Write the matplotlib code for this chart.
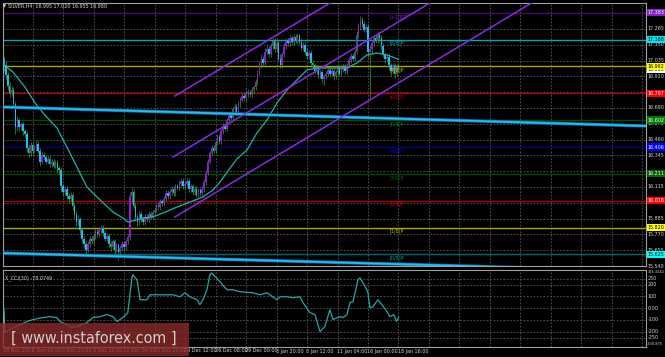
import os
import matplotlib
matplotlib.use('Agg')
import matplotlib.pyplot as plt
from matplotlib import font_manager
from matplotlib.font_manager import FontProperties
from matplotlib.transforms import blended_transform_factory
from matplotlib.patches import Rectangle

# ---------------- data ----------------
opens = [17.04, 17.00, 16.93, 16.85, 16.80, 16.82, 16.72, 16.55,
         16.60, 16.55, 16.57, 16.52, 16.50, 16.40, 16.36, 16.42,
         16.38, 16.40, 16.43, 16.38, 16.30, 16.35, 16.33, 16.30,
         16.32, 16.28, 16.30, 16.27, 16.29, 16.25, 16.24, 16.12,
         16.08, 16.10, 16.05, 16.03, 16.06, 15.98, 15.92, 15.86,
         15.88, 15.80, 15.74, 15.70, 15.66, 15.70, 15.74, 15.72,
         15.76, 15.79, 15.77, 15.80, 15.82, 15.78, 15.74, 15.76,
         15.70, 15.68, 15.72, 15.66, 15.69, 15.64, 15.67, 15.70,
         15.68, 15.72, 15.75, 16.05, 16.08, 15.98, 15.90, 15.86,
         15.92, 15.88, 15.86, 15.90, 15.88, 15.92, 15.90, 15.93,
         15.95, 15.98, 15.97, 16.01, 16.00, 16.03, 16.07, 16.05,
         16.08, 16.10, 16.07, 16.12, 16.11, 16.14, 16.16, 16.12,
         16.14, 16.16, 16.10, 16.12, 16.08, 16.10, 16.06, 16.09,
         16.07, 16.10, 16.15, 16.22, 16.30, 16.36, 16.40, 16.38,
         16.44, 16.48, 16.45, 16.52, 16.56, 16.54, 16.60, 16.64,
         16.62, 16.68, 16.70, 16.66, 16.72, 16.75, 16.78, 16.76,
         16.80, 16.80, 16.79, 16.82, 16.84, 16.88, 16.95, 17.00,
         17.05, 17.02, 17.10, 17.12, 17.08, 17.14, 17.18, 17.12,
         17.16, 17.05, 17.00, 17.08, 17.14, 17.18, 17.16, 17.20,
         17.17, 17.21, 17.18, 17.22, 17.17, 17.13, 17.15, 17.10,
         17.07, 17.09, 17.02, 17.00, 16.96, 16.98, 16.93, 16.95,
         16.90, 16.92, 16.94, 16.97, 16.94, 16.96, 16.92, 16.95,
         16.98, 16.94, 16.97, 16.99, 16.96, 17.00, 17.04, 17.07,
         17.05, 17.10, 17.22, 17.28, 17.33, 17.30, 17.26, 17.28,
         17.10, 17.12, 17.16, 17.20, 17.18, 17.22, 17.20, 17.14,
         17.08, 17.05, 17.06, 17.00, 16.96, 17.00, 16.94, 16.995]
highs = [17.07, 17.03, 16.95, 16.88, 16.85, 16.84, 16.74, 16.63,
         16.62, 16.59, 16.59, 16.54, 16.52, 16.42, 16.44, 16.44,
         16.42, 16.46, 16.45, 16.40, 16.37, 16.37, 16.35, 16.34,
         16.34, 16.32, 16.32, 16.31, 16.31, 16.27, 16.26, 16.14,
         16.12, 16.12, 16.07, 16.08, 16.08, 16.00, 15.94, 15.91,
         15.90, 15.82, 15.76, 15.72, 15.72, 15.76, 15.76, 15.78,
         15.81, 15.81, 15.82, 15.84, 15.84, 15.80, 15.78, 15.78,
         15.72, 15.74, 15.74, 15.71, 15.71, 15.69, 15.72, 15.72,
         15.74, 15.77, 16.08, 16.115, 16.10, 16.00, 15.92, 15.94,
         15.94, 15.90, 15.92, 15.92, 15.94, 15.94, 15.95, 15.97,
         16.00, 16.00, 16.03, 16.03, 16.05, 16.09, 16.09, 16.10,
         16.12, 16.12, 16.14, 16.14, 16.16, 16.18, 16.18, 16.16,
         16.18, 16.18, 16.14, 16.14, 16.12, 16.12, 16.11, 16.11,
         16.12, 16.17, 16.24, 16.32, 16.38, 16.42, 16.42, 16.46,
         16.50, 16.50, 16.54, 16.58, 16.58, 16.62, 16.66, 16.66,
         16.70, 16.72, 16.72, 16.74, 16.77, 16.80, 16.80, 16.82,
         16.83, 16.82, 16.84, 16.86, 16.90, 16.97, 17.03, 17.08,
         17.07, 17.13, 17.15, 17.14, 17.16, 17.20, 17.20, 17.18,
         17.18, 17.08, 17.10, 17.16, 17.20, 17.20, 17.22, 17.22,
         17.23, 17.23, 17.235, 17.23, 17.19, 17.17, 17.17, 17.12,
         17.11, 17.11, 17.04, 17.02, 17.00, 17.00, 16.97, 16.97,
         16.94, 16.96, 16.99, 16.99, 16.98, 16.98, 16.97, 17.00,
         17.00, 16.99, 17.01, 17.01, 17.02, 17.06, 17.09, 17.09,
         17.12, 17.25, 17.31, 17.36, 17.35, 17.32, 17.30, 17.30,
         17.14, 17.18, 17.22, 17.22, 17.24, 17.24, 17.22, 17.16,
         17.10, 17.08, 17.08, 17.02, 17.02, 17.02, 17.01, 17.02]
lows = [16.96, 16.90, 16.82, 16.77, 16.78, 16.70, 16.50, 16.52,
        16.52, 16.53, 16.49, 16.47, 16.37, 16.33, 16.34, 16.35,
        16.36, 16.38, 16.36, 16.27, 16.28, 16.31, 16.28, 16.28,
        16.26, 16.26, 16.25, 16.25, 16.22, 16.21, 16.08, 16.05,
        16.06, 16.03, 16.00, 16.01, 15.95, 15.89, 15.83, 15.84,
        15.77, 15.71, 15.67, 15.62, 15.64, 15.68, 15.70, 15.70,
        15.74, 15.75, 15.75, 15.78, 15.76, 15.72, 15.72, 15.68,
        15.65, 15.66, 15.63, 15.64, 15.584, 15.62, 15.65, 15.66,
        15.66, 15.70, 15.73, 16.00, 15.96, 15.87, 15.83, 15.84,
        15.86, 15.84, 15.84, 15.86, 15.86, 15.88, 15.88, 15.91,
        15.93, 15.95, 15.95, 15.98, 15.98, 16.01, 16.03, 16.03,
        16.06, 16.05, 16.05, 16.09, 16.09, 16.12, 16.10, 16.10,
        16.12, 16.08, 16.08, 16.06, 16.06, 16.04, 16.04, 16.05,
        16.05, 16.08, 16.13, 16.20, 16.28, 16.34, 16.36, 16.36,
        16.42, 16.43, 16.43, 16.50, 16.52, 16.52, 16.58, 16.60,
        16.60, 16.66, 16.64, 16.64, 16.70, 16.73, 16.74, 16.74,
        16.77, 16.77, 16.77, 16.80, 16.82, 16.86, 16.93, 16.98,
        17.00, 17.00, 17.08, 17.06, 17.06, 17.12, 17.10, 17.10,
        17.03, 16.98, 16.98, 17.06, 17.12, 17.14, 17.14, 17.15,
        17.15, 17.16, 17.16, 17.15, 17.11, 17.11, 17.08, 17.05,
        17.05, 17.00, 16.98, 16.94, 16.94, 16.91, 16.91, 16.87,
        16.86, 16.90, 16.92, 16.92, 16.92, 16.89, 16.90, 16.93,
        16.92, 16.92, 16.95, 16.94, 16.94, 16.98, 17.02, 17.03,
        17.03, 17.08, 17.20, 17.26, 17.28, 17.24, 17.24, 17.06,
        16.76, 17.08, 17.14, 17.16, 17.16, 17.18, 17.12, 17.06,
        17.02, 17.03, 16.97, 16.92, 16.94, 16.91, 16.92, 16.955]
closes = [17.00, 16.93, 16.85, 16.80, 16.82, 16.72, 16.55, 16.60,
          16.55, 16.57, 16.52, 16.50, 16.40, 16.36, 16.42, 16.38,
          16.40, 16.43, 16.38, 16.30, 16.35, 16.33, 16.30, 16.32,
          16.28, 16.30, 16.27, 16.29, 16.25, 16.24, 16.12, 16.08,
          16.10, 16.05, 16.03, 16.06, 15.98, 15.92, 15.86, 15.88,
          15.80, 15.74, 15.70, 15.66, 15.70, 15.74, 15.72, 15.76,
          15.79, 15.77, 15.80, 15.82, 15.78, 15.74, 15.76, 15.70,
          15.68, 15.72, 15.66, 15.69, 15.64, 15.67, 15.70, 15.68,
          15.72, 15.75, 16.05, 16.08, 15.98, 15.90, 15.86, 15.92,
          15.88, 15.86, 15.90, 15.88, 15.92, 15.90, 15.93, 15.95,
          15.98, 15.97, 16.01, 16.00, 16.03, 16.07, 16.05, 16.08,
          16.10, 16.07, 16.12, 16.11, 16.14, 16.16, 16.12, 16.14,
          16.16, 16.10, 16.12, 16.08, 16.10, 16.06, 16.09, 16.07,
          16.10, 16.15, 16.22, 16.30, 16.36, 16.40, 16.38, 16.44,
          16.48, 16.45, 16.52, 16.56, 16.54, 16.60, 16.64, 16.62,
          16.68, 16.70, 16.66, 16.72, 16.75, 16.78, 16.76, 16.80,
          16.80, 16.79, 16.82, 16.84, 16.88, 16.95, 17.00, 17.05,
          17.02, 17.10, 17.12, 17.08, 17.14, 17.18, 17.12, 17.16,
          17.05, 17.00, 17.08, 17.14, 17.18, 17.16, 17.20, 17.17,
          17.21, 17.18, 17.22, 17.17, 17.13, 17.15, 17.10, 17.07,
          17.09, 17.02, 17.00, 16.96, 16.98, 16.93, 16.95, 16.90,
          16.92, 16.94, 16.97, 16.94, 16.96, 16.92, 16.95, 16.98,
          16.94, 16.97, 16.99, 16.96, 17.00, 17.04, 17.07, 17.05,
          17.10, 17.22, 17.28, 17.33, 17.30, 17.26, 17.28, 17.10,
          17.12, 17.16, 17.20, 17.18, 17.22, 17.20, 17.14, 17.08,
          17.05, 17.06, 17.00, 16.96, 17.00, 16.94, 16.99, 16.98]

# moving average (bar index, price)
ma_x = [0, 4.7, 11, 16.3, 20.5, 27.8, 33, 38.3, 43.5, 50.4, 57.2, 62.4, 65,
        67.7, 72.9, 78.2, 83.4, 90.8, 97.6, 104.4, 109.7, 113.3, 122.2, 127.5,
        132.7, 138, 143.2, 148.5, 153.7, 159, 164.2, 172.6, 180, 185.2, 190.4,
        195.7, 201, 207]
ma_v = [17.003, 16.952, 16.843, 16.726, 16.654, 16.544, 16.406, 16.261, 16.115,
        16.021, 15.933, 15.889, 15.860, 15.868, 15.889, 15.897, 15.926, 15.969,
        16.006, 16.042, 16.093, 16.151, 16.319, 16.384, 16.508, 16.603, 16.726,
        16.821, 16.894, 16.967, 16.981, 16.981, 16.981, 17.018, 17.076, 17.090,
        17.076, 17.045]

# CCI(30)
cci_x = [0, 0.5, 3, 8.4, 12, 15.2, 20.5, 24, 27.8, 29.4, 33, 35.7, 38.3, 43.5,
         46.7, 50.4, 54, 57.2, 59.3, 62.4, 65, 67.2, 67.7, 69.8, 71.4, 75, 76.6,
         81.8, 88.7, 92.3, 95, 97.6, 101.3, 102.8, 104.4, 106.5, 108, 109, 113.3,
         117, 120, 123.8, 130.6, 134.3, 138, 143.2, 144.8, 148.5, 151.6, 155.3,
         156.9, 160.5, 163.2, 165.8, 168.4, 171, 172.6, 176.3, 177.9, 180, 181.5,
         183.1, 184.2, 185.7, 186.8, 188.4, 190.4, 191, 192, 193.6, 196.2, 198.3,
         201, 202.5, 204.5, 206, 207]
cci_v = [0, -208, -182, -140, -114, -97, -80, -72, -80, -114, -140, -165, -157,
         -123, -80, -72, -55, -72, -114, -80, -38, 267, 284, 242, 72, 72, 114,
         114, 114, 97, 131, 97, 72, 30, 72, 157, 284, 300, 225, 157, 157, 140,
         131, 114, 131, 72, 97, 97, 89, 97, 47, -38, -55, -199, -157, -13, -97,
         -72, -80, -55, 47, 55, 131, 242, 258, 216, 157, 131, 4, 13, 72, 30, -30,
         -72, -55, -114, -78]

# Murrey math levels
murray_levels = [17.383, 17.188, 16.992, 16.797, 16.602, 16.406, 16.211, 16.016, 15.820, 15.625]
murray_names = ['[+1/8]P', '[8/8]P', '[7/8]P', '[6/8]P', '[5/8]P', '[4/8]P',
                '[3/8]P', '[2/8]P', '[1/8]P', '[0/8]P']
murray_box_labels = ['17.383', '17.188', '16.992', '16.797', '16.602', '16.406',
                     '16.211', '16.016', '15.820', '15.625']

# trend lines (bar index, price)
blue_line1 = [(-0.5, 16.697), (336.9, 16.559)]
blue_line2 = [(-0.5, 15.634), (336.9, 15.503)]
channel_upper = [(89.7, 16.777), (336.9, 18.834)]
channel_mid = [(88.7, 16.333), (336.9, 18.398)]
channel_low = [(89.7, 15.897), (336.9, 17.954)]

# price grid (all levels) and the tick labels that stay visible beside the boxes
price_grid = [17.380, 17.265, 17.150, 17.035, 16.920, 16.805, 16.690, 16.575, 16.460,
              16.345, 16.230, 16.115, 16.000, 15.885, 15.770, 15.655, 15.540]
price_ticks = [17.265, 17.150, 17.035, 16.920, 16.690, 16.575, 16.460,
               16.345, 16.115, 15.885, 15.770, 15.655, 15.540]
price_tick_labels = ['17.265', '17.150', '17.035', '16.920', '16.690', '16.575', '16.460',
                     '16.345', '16.115', '15.885', '15.770', '15.655', '15.540']
cci_ticks = [250, 200, 100, 0, -100, -200, -250]
cci_tick_labels = ['250', '200', '100', '0.00', '-100', '-200', '-250']
cci_max, cci_min = 325.3242, -330.875

date_idx = [0, 15, 31, 47, 63, 79, 95, 111, 127, 143, 159, 175, 191, 207]
date_labels = ['28 Nov 2017', '1 Dec 04:00', '5 Dec 20:00', '8 Dec 12:00', '13 Dec 04:00',
               '15 Dec 20:00', '20 Dec 12:00', '26 Dec 08:00', '29 Dec 00:00',
               '3 Jan 20:00', '8 Jan 12:00', '11 Jan 04:00', '16 Jan 00:00', '18 Jan 16:00']

title_text = 'SILVER,H4  16.995 17.020 16.955 16.980'
cci_title = 'X_CCI(30) -78.0749'
last_price = 16.980

# ---------------- fonts ----------------
files = {os.path.basename(f.fname): f.fname for f in font_manager.fontManager.ttflist}
FS, WFS, FPATH = 3.8, 12.0, None
for fn, fs, wfs in [('LiberationSansNarrow-Regular.ttf', 4.3, 14.5),
                    ('DejaVuSansCondensed.ttf', 3.9, 11.5),
                    ('LiberationSans-Regular.ttf', 3.8, 12.0)]:
    if fn in files:
        FS, WFS, FPATH = fs, wfs, files[fn]
        break


def fp(size):
    if FPATH:
        return FontProperties(fname=FPATH, size=size)
    return FontProperties(family='DejaVu Sans', size=size * 0.85)


SMALL = fp(FS)
TINY = fp(FS * 0.74)
TXT = '#d8d8d8'
GRID = '#5c5c5c'
BULL = '#9418d0'
BEAR = '#1ebcee'
WICK = '#2cb82c'
line_cols = ['#4a0a6e', '#00a6b6', '#a8a800', '#b00000', '#004c00', '#00008c',
             '#004c00', '#b00000', '#a8a800', '#006a6a']
box_cols = ['#8a1ec8', '#00e6f0', '#ffff00', '#ff0000', '#007a00', '#0000ff',
            '#006400', '#ff0000', '#ffff00', '#00ffff']
box_txt = ['white', 'black', 'black', 'white', 'white', 'white', 'white', 'white',
           'black', 'black']
lab_cols = ['#8a1ec8', '#00b0c0', '#c8c800', '#c00000', '#008000', '#0000e0',
            '#006000', '#c00000', '#b4b400', '#00a0a0']

W, H = 665, 357
fig = plt.figure(figsize=(W / 100, H / 100), dpi=100, facecolor='black')


def fr(x0, y0, x1, y1):
    return [x0 / W, 1 - y1 / H, (x1 - x0) / W, (y1 - y0) / H]


XL = (-0.5, -0.5 + 643 / 1.906)
ax = fig.add_axes(fr(3, 3, 646, 266))
cax = fig.add_axes(fr(3, 270, 646, 347))
for a in (ax, cax):
    a.set_facecolor('black')
    a.set_xlim(*XL)
    a.set_xticks([])
    a.set_yticks([])
    for s in a.spines.values():
        s.set_color('#a0a0a0')
        s.set_linewidth(0.8)
ax.set_ylim(15.540, 17.454)
cax.set_ylim(cci_min, cci_max)

# grid
vgrid = list(range(15, 337, 16))
for a in (ax, cax):
    for g in vgrid:
        a.axvline(g, color=GRID, lw=0.6, ls=(0, (2, 2)), zorder=0)
for p in price_grid:
    ax.axhline(p, color=GRID, lw=0.6, ls=(0, (2, 2)), zorder=0)
for c in cci_ticks:
    cax.axhline(c, color=GRID, lw=0.6, ls=(0, (2, 2)), zorder=0)

# murray lines
for lv, lc in zip(murray_levels, line_cols):
    ax.axhline(lv, color=lc, lw=1.0, zorder=1)

# candles
idx = list(range(len(closes)))
ax.vlines(idx, lows, highs, color=WICK, lw=0.45, zorder=2)
bodies_b = [max(abs(c - o), 0.004) for o, c in zip(opens, closes)]
bottoms = [min(o, c) for o, c in zip(opens, closes)]
cols = [BULL if c >= o else BEAR for o, c in zip(opens, closes)]
ax.bar(idx, bodies_b, bottom=bottoms, width=0.8, color=cols, lw=0, zorder=3)

# moving average
ax.plot(ma_x, ma_v, color='#20b2aa', lw=0.9, zorder=4)

# trend lines
for ln in (blue_line1, blue_line2):
    ax.plot([ln[0][0], ln[1][0]], [ln[0][1], ln[1][1]], color='#0d6fae', lw=2.4, zorder=4)
    ax.plot([ln[0][0], ln[1][0]], [ln[0][1], ln[1][1]], color='#1ec0f2', lw=1.3, zorder=5)
for ln in (channel_upper, channel_mid, channel_low):
    ax.plot([ln[0][0], ln[1][0]], [ln[0][1], ln[1][1]], color='#8a2be2', lw=1.1, zorder=5)

# murray labels inside chart
for lv, nm, lc in zip(murray_levels, murray_names, lab_cols):
    ax.text(202.3, lv - 0.008, nm, color=lc, fontproperties=SMALL, va='top', ha='left', zorder=6)

# right axis labels
tr = blended_transform_factory(ax.transAxes, ax.transData)
for p, lbl in zip(price_ticks, price_tick_labels):
    ax.text(1.003, p, lbl, transform=tr, color=TXT, fontproperties=SMALL,
            va='center', ha='left', clip_on=False)
ax.text(1.003, last_price - 0.012, f'{last_price:.3f}', transform=tr, color='black',
        fontproperties=SMALL, va='center', ha='left', clip_on=False,
        bbox=dict(boxstyle='square,pad=0.2', fc='white', ec='none'))
for lv, bl, bc, bt in zip(murray_levels, murray_box_labels, box_cols, box_txt):
    ax.text(1.003, lv, bl, transform=tr, color=bt, fontproperties=SMALL,
            va='center', ha='left', clip_on=False,
            bbox=dict(boxstyle='square,pad=0.2', fc=bc, ec='none'))

trc = blended_transform_factory(cax.transAxes, cax.transData)
for c, lbl in zip(cci_ticks, cci_tick_labels):
    cax.text(1.003, c, lbl, transform=trc, color=TXT, fontproperties=SMALL,
             va='center', ha='left', clip_on=False)
cax.text(1.002, cci_max - 18, '325.3242', transform=trc, color=TXT, fontproperties=TINY,
         va='center', ha='left', clip_on=False)
cax.text(1.002, cci_min + 25, '-330.875', transform=trc, color=TXT, fontproperties=TINY,
         va='center', ha='left', clip_on=False)

# CCI
cax.plot(cci_x, cci_v, color='#25a8a2', lw=0.9, zorder=3)
cax.text(0.003, 0.93, cci_title, transform=cax.transAxes, color=TXT, fontproperties=SMALL,
         va='top', ha='left')

# titles
fig.text(3 / W, 1 - 6 / H, '\u25BC', color=TXT, fontsize=3.0, va='center', ha='left')
fig.text(8 / W, 1 - 6 / H, title_text, color=TXT, fontproperties=SMALL, va='center', ha='left')

# date labels
trd = blended_transform_factory(cax.transData, fig.transFigure)
for i, lbl in zip(date_idx, date_labels):
    cax.text(i - 0.5, 1 - 351 / H, lbl, transform=trd, color=TXT, fontproperties=SMALL,
             va='center', ha='left', clip_on=False, zorder=10)

# watermark
fig.patches.append(Rectangle((0, 1 - 356 / H), 189 / W, 33 / H, transform=fig.transFigure,
                             facecolor='#8a2a2a', alpha=0.8, edgecolor='none', zorder=8))
fig.text(94 / W, 1 - 338 / H, '[ www.instaforex.com ]', color='#d0d0d0',
         fontproperties=fp(WFS), va='center', ha='center', zorder=9)

fig.savefig('out.png', dpi=100, facecolor='black')
